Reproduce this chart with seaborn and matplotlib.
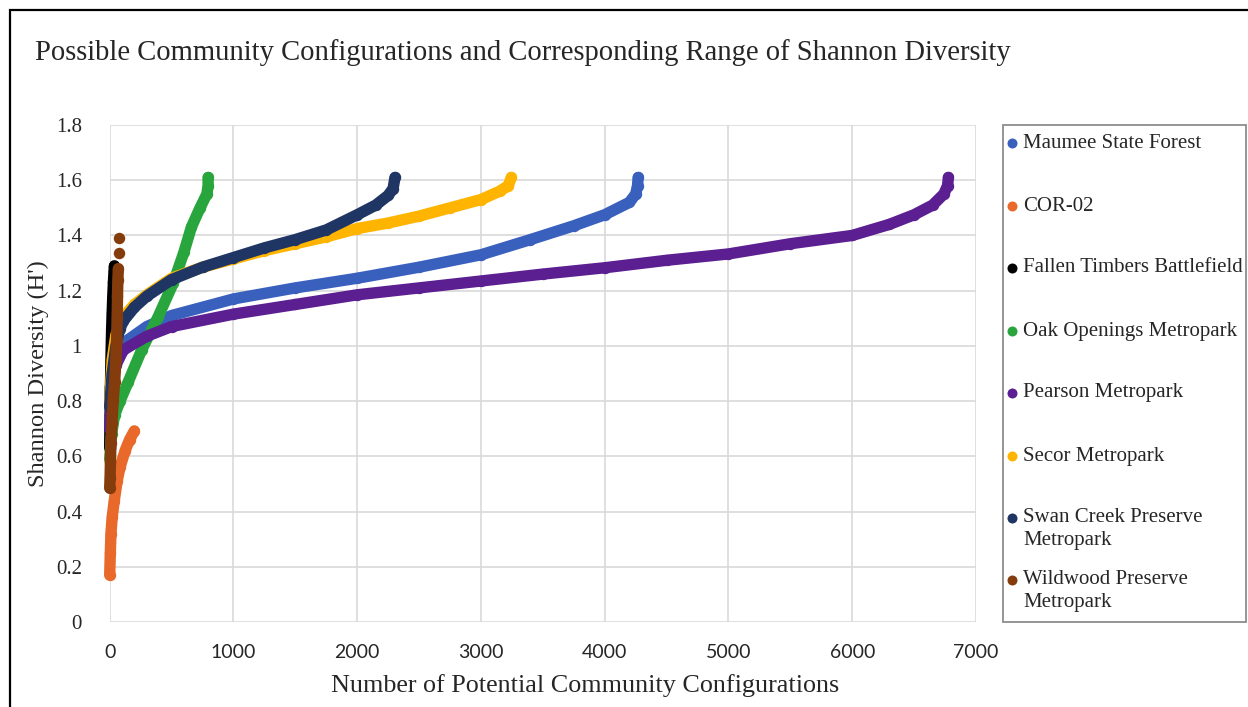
import numpy as np
import pandas as pd
import seaborn as sns
import matplotlib.pyplot as plt
from matplotlib.lines import Line2D
from matplotlib.patches import Rectangle

# ---------------- data ----------------
site_names = ["Maumee State Forest", "COR-02", "Fallen Timbers Battlefield",
              "Oak Openings Metropark", "Pearson Metropark", "Secor Metropark",
              "Swan Creek Preserve Metropark", "Wildwood Preserve Metropark"]
legend_lines = [["Maumee State Forest"], ["COR-02"], ["Fallen Timbers Battlefield"],
                ["Oak Openings Metropark"], ["Pearson Metropark"], ["Secor Metropark"],
                ["Swan Creek Preserve", "Metropark"], ["Wildwood Preserve", "Metropark"]]
site_colors = ["#3A60BE", "#E8692A", "#000000", "#28A53C", "#5B1F92",
               "#FFB400", "#1F3564", "#843C0C"]

maumee_x = [0, 20, 50, 110, 300, 500, 1000, 1500, 2000, 2500, 3000, 3400, 3750, 4000, 4200, 4250, 4265, 4270]
maumee_y = [0.82, 0.92, 0.97, 1.01, 1.07, 1.11, 1.17, 1.21, 1.245, 1.285, 1.33, 1.385, 1.435, 1.475, 1.52, 1.55, 1.58, 1.61]

cor02_x = [0, 5, 10, 20, 37, 60, 83, 124, 160, 199]
cor02_y = [0.17, 0.25, 0.32, 0.38, 0.44, 0.51, 0.56, 0.62, 0.66, 0.692]

fallen_x = [0, 3, 6, 10, 15, 20, 25, 30, 35, 38]
fallen_y = [0.63, 0.75, 0.85, 0.95, 1.05, 1.12, 1.18, 1.23, 1.27, 1.29]

oak_x = [0, 15, 40, 83, 150, 258, 392, 514, 600, 660, 730, 785, 795, 795]
oak_y = [0.59, 0.68, 0.75, 0.80, 0.87, 0.985, 1.106, 1.228, 1.34, 1.43, 1.50, 1.55, 1.58, 1.61]

pearson_x = [0, 20, 50, 110, 300, 500, 1000, 1500, 2000, 2500, 3000, 3500, 4000, 4500, 5000, 5500, 6000, 6300, 6500, 6650, 6740, 6770, 6777]
pearson_y = [0.70, 0.85, 0.93, 0.985, 1.035, 1.07, 1.115, 1.15, 1.185, 1.21, 1.235, 1.26, 1.283, 1.31, 1.333, 1.37, 1.40, 1.44, 1.475, 1.51, 1.55, 1.58, 1.61]

secor_x = [0, 20, 50, 100, 200, 300, 500, 750, 1000, 1250, 1500, 1750, 2000, 2250, 2500, 2750, 3000, 3150, 3220, 3245]
secor_y = [0.80, 0.95, 1.04, 1.10, 1.15, 1.185, 1.245, 1.285, 1.315, 1.345, 1.37, 1.395, 1.425, 1.445, 1.47, 1.50, 1.53, 1.56, 1.58, 1.61]

swan_x = [0, 20, 50, 80, 110, 200, 300, 500, 750, 1000, 1250, 1500, 1750, 2000, 2150, 2250, 2290, 2305]
swan_y = [0.78, 0.90, 1.00, 1.06, 1.09, 1.14, 1.18, 1.24, 1.285, 1.32, 1.355, 1.385, 1.42, 1.475, 1.51, 1.545, 1.57, 1.61]

wild_x = [0, 3, 6, 10, 18, 28, 40, 50, 56, 60, 63, 66, 70]
wild_y = [0.485, 0.52, 0.58, 0.65, 0.72, 0.80, 0.87, 0.95, 1.02, 1.10, 1.18, 1.24, 1.28]
wild_top_x = [74, 77]
wild_top_y = [1.335, 1.39]

x_ticks = [0, 1000, 2000, 3000, 4000, 5000, 6000, 7000]
y_ticks = [0, 0.2, 0.4, 0.6, 0.8, 1.0, 1.2, 1.4, 1.6, 1.8]
y_tick_labels = ["0", "0.2", "0.4", "0.6", "0.8", "1", "1.2", "1.4", "1.6", "1.8"]

series_x = [maumee_x, cor02_x, fallen_x, oak_x, pearson_x, secor_x, swan_x, wild_x]
series_y = [maumee_y, cor02_y, fallen_y, oak_y, pearson_y, secor_y, swan_y, wild_y]

frames = []
for name, xs, ys in zip(site_names, series_x, series_y):
    frames.append(pd.DataFrame({"configs": xs, "H": ys, "site": name}))
df = pd.concat(frames, ignore_index=True)

# ---------------- figure ----------------
sns.set_style("white")
plt.rcParams["font.family"] = ["Liberation Serif", "DejaVu Serif"]

W, H = 1248, 707
fig = plt.figure(figsize=(W / 100, H / 100), dpi=100)
ax_l, ax_r, ax_t, ax_b = 109.7, 976.0, 125.0, 622.0
ax = fig.add_axes([ax_l / W, 1 - ax_b / H, (ax_r - ax_l) / W, (ax_b - ax_t) / H])

sns.lineplot(data=df, x="configs", y="H", hue="site", hue_order=site_names,
             palette=site_colors, sort=False, estimator=None, legend=False,
             marker="o", markersize=8.2, markeredgewidth=0, linewidth=8.2,
             solid_capstyle="round", solid_joinstyle="round", clip_on=False,
             zorder=3, ax=ax)
sns.scatterplot(x=wild_top_x, y=wild_top_y, color=site_colors[-1], s=68,
                linewidth=0, clip_on=False, zorder=4, ax=ax)

ax.set_xlim(0, 7000)
ax.set_ylim(0, 1.8)
ax.set_xticks(x_ticks)
ax.set_xticklabels([str(t) for t in x_ticks], fontfamily="Lato", fontsize=14)
ax.set_yticks(y_ticks)
ax.set_yticklabels(y_tick_labels, fontsize=15)
ax.tick_params(axis="both", length=0)
ax.tick_params(axis="y", pad=20)
ax.tick_params(axis="x", pad=16)
ax.grid(True, color="#D9D9D9", linewidth=1.2)
ax.set_axisbelow(True)
for s in ax.spines.values():
    s.set_visible(False)

ax.set_xlabel("Number of Potential Community Configurations", fontsize=18.8)
ax.set_ylabel("Shannon Diversity (H')", fontsize=17.6)
ax.xaxis.set_label_coords((585 - ax_l) / (ax_r - ax_l), (ax_b - 674) / (ax_b - ax_t))
ax.yaxis.set_label_coords((49 - ax_l) / (ax_r - ax_l), 0.5)

fig.text(35 / W, 1 - 60 / H,
         "Possible Community Configurations and Corresponding Range of Shannon Diversity",
         fontsize=20.6, ha="left", va="baseline")

# outer frame
fig.add_artist(Rectangle((10 / W, -0.2), 1.5, 1.2 - 10 / H, transform=fig.transFigure,
                         fill=False, edgecolor="black", linewidth=1.6))

# legend box
fig.add_artist(Rectangle((1003 / W, 1 - 622 / H), (1246 - 1003) / W, 497 / H,
                         transform=fig.transFigure, fill=False,
                         edgecolor="#8C8C8C", linewidth=1.3))
entry_y = [143, 206, 268, 331, 393, 456, 518, 580]
for lines, c, yp in zip(legend_lines, site_colors, entry_y):
    fig.add_artist(Line2D([1012 / W], [1 - yp / H], marker="o", color=c,
                          markersize=7.2, markeredgewidth=0, linestyle="none",
                          transform=fig.transFigure))
    for i, line in enumerate(lines):
        fig.text(1023 / W, 1 - (yp + 23 * i) / H, line, fontsize=15,
                 ha="left", va="center")

fig.savefig("out.png", dpi=100)
